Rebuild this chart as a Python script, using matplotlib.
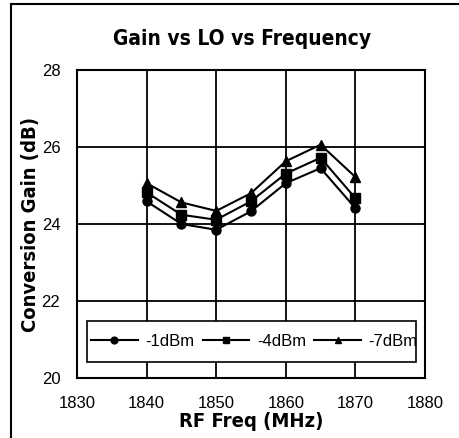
import numpy as np
from matplotlib import pyplot as plt
from matplotlib.patches import Rectangle

freq = [1840, 1845, 1850, 1855, 1860, 1865, 1870]
gain_1dbm = [24.59, 24.00, 23.85, 24.33, 25.06, 25.45, 24.41]
gain_4dbm = [24.82, 24.24, 24.11, 24.59, 25.31, 25.72, 24.67]
gain_7dbm = [25.06, 24.56, 24.34, 24.80, 25.63, 26.06, 25.22]
labels = ["-1dBm", "-4dBm", "-7dBm"]
markers = ["o", "s", "^"]

plt.rcParams['font.family'] = ["Liberation Sans", "DejaVu Sans"]
bold = dict(family="DejaVu Sans", fontstretch="condensed", fontweight="bold")

fig = plt.figure(figsize=(4.6, 4.38), dpi=100)
ax = fig.add_axes([77/460, 1 - 378/438, 348/460, 308/438])

# outer frame
fig.patches.append(Rectangle((11/460, -0.01), 1.0, 1 - 4/438 + 0.01, transform=fig.transFigure,
                             fill=False, edgecolor="black", linewidth=1.5))

for g, lab, m in zip([gain_1dbm, gain_4dbm, gain_7dbm], labels, markers):
    ax.plot(freq, g, color="black", linewidth=1.5, marker=m, markersize=6.5,
            markerfacecolor="black", markeredgecolor="black", label=lab)

ax.set_xlim(1830, 1880)
ax.set_ylim(20, 28)
ax.set_xticks(np.arange(1830, 1881, 10))
ax.set_yticks(np.arange(20, 29, 2))
ax.grid(True, color="black", linewidth=1.3)
ax.tick_params(length=0, labelsize=12, pad=13)
ax.tick_params(axis="y", pad=12)
for s in ax.spines.values():
    s.set_linewidth(1.5)

ax.set_xlabel("RF Freq (MHz)", fontsize=14.5, labelpad=1, **bold)
ax.set_ylabel("Conversion Gain (dB)", fontsize=14.5, labelpad=1, **bold)
fig.text(242/460, 1 - 39/438, "Gain vs LO vs Frequency", fontsize=15,
         ha="center", va="center", **bold)

# legend box drawn separately so the text can run past its edge as in the original
ax.add_patch(Rectangle((10/348, 16/308), 329/348, 41/308, transform=ax.transAxes,
                       facecolor="white", edgecolor="black", linewidth=1.2, zorder=4))
leg = ax.legend(ncol=3, loc="center left", bbox_to_anchor=(14/348, 36.5/308),
                fontsize=12, frameon=False, handlelength=2.8, handletextpad=0.45,
                columnspacing=0.5, borderpad=0, borderaxespad=0, markerscale=0.75)
leg.set_zorder(5)

fig.savefig("out.png", dpi=100)
